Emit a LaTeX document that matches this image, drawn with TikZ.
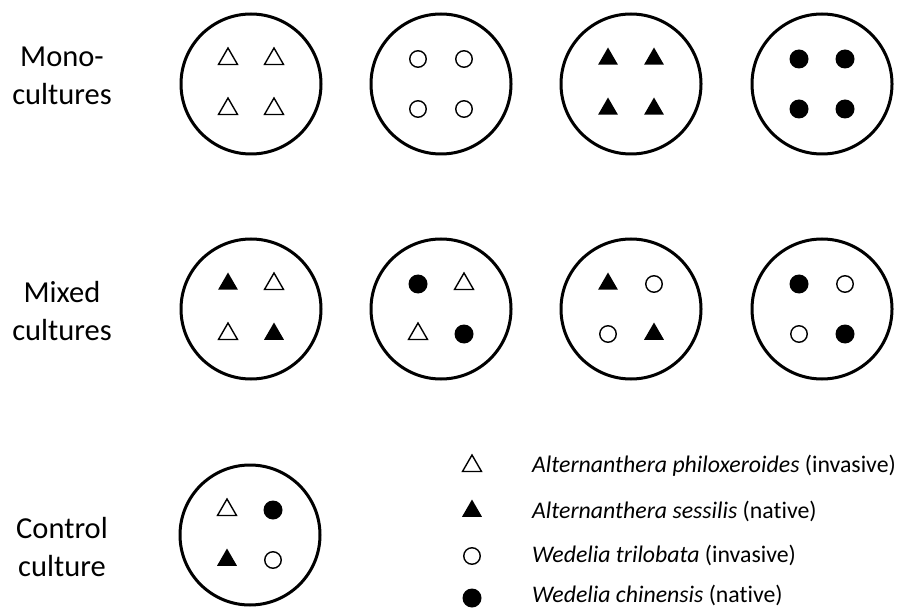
\documentclass[tikz,border=0pt]{standalone}
\usepackage{fontspec}
\setmainfont[Ligatures=NoCommon]{Carlito}
\usetikzlibrary{shapes.geometric}
\tikzset{
  dish/.style={circle, draw, line width=3pt, minimum size=140pt, inner sep=0pt},
  htri/.style={regular polygon, regular polygon sides=3, minimum size=22pt, inner sep=0pt, draw, line width=1.4pt},
  ftri/.style={regular polygon, regular polygon sides=3, minimum size=23pt, inner sep=0pt, fill=black},
  hcirc/.style={circle, minimum size=16.5pt, inner sep=0pt, draw, line width=1.4pt},
  fcirc/.style={circle, minimum size=19pt, inner sep=0pt, fill=black},
  rowlabel/.style={align=center, font=\fontsize{30.5}{38}\selectfont, inner sep=0pt},
  legtext/.style={anchor=base west, font=\fontsize{23.8}{28}\selectfont, inner sep=0pt}
}
% #1 name, #2 x, #3 y, #4-#7 styles of TL TR BL BR
\newcommand\petri[7]{%
  \node[dish] (#1) at (#2,#3) {};
  \node[#4] (#1-tl) at (#2-23,#3-25) {};
  \node[#5] (#1-tr) at (#2+23,#3-25) {};
  \node[#6] (#1-bl) at (#2-23,#3+25) {};
  \node[#7] (#1-br) at (#2+23,#3+25) {};
}
\begin{document}
\begin{tikzpicture}[x=1pt, y=-1pt]
\useasboundingbox (0,0) rectangle (901,609);
% row labels
\node[rowlabel] (lab1) at (62,76) {Mono-\\cultures};
\node[rowlabel] (lab2) at (62,311) {Mixed\\cultures};
\node[rowlabel] (lab3) at (62,547) {Control\\culture};
% monocultures
\petri{m1}{251}{84}{htri}{htri}{htri}{htri}
\petri{m2}{441}{84}{hcirc}{hcirc}{hcirc}{hcirc}
\petri{m3}{631}{84}{ftri}{ftri}{ftri}{ftri}
\petri{m4}{822}{84}{fcirc}{fcirc}{fcirc}{fcirc}
% mixed cultures
\petri{x1}{251}{309}{ftri}{htri}{htri}{ftri}
\petri{x2}{441}{309}{fcirc}{htri}{htri}{fcirc}
\petri{x3}{631}{309}{ftri}{hcirc}{hcirc}{ftri}
\petri{x4}{822}{309}{fcirc}{hcirc}{hcirc}{fcirc}
% control
\petri{c1}{250}{535}{htri}{fcirc}{ftri}{hcirc}
% legend
\node[htri] (s1) at (472,466) {};
\node[ftri] (s2) at (472,511) {};
\node[hcirc] (s3) at (472,556) {};
\node[fcirc] (s4) at (472,598) {};
\node[legtext] (t1) at (532,472) {\textit{Alternanthera philoxeroides} (invasive)};
\node[legtext] (t2) at (532,518) {\textit{Alternanthera sessilis} (native)};
\node[legtext] (t3) at (532,562) {\textit{Wedelia trilobata} (invasive)};
\node[legtext] (t4) at (532,602) {\textit{Wedelia chinensis} (native)};
\end{tikzpicture}
\end{document}
